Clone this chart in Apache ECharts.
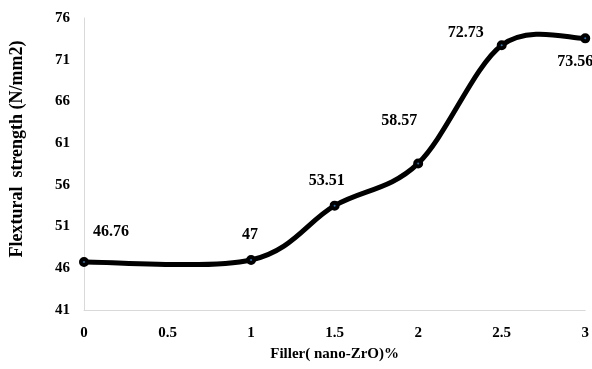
<!DOCTYPE html>
<html>
<head>
<meta charset="utf-8">
<script src="https://cdn.jsdelivr.net/npm/echarts@6/dist/echarts.min.js"></script>
<style>html,body{margin:0;padding:0;background:#fff}#c{width:592px;height:369px}</style>
</head>
<body>
<div id="c"></div>
<script>
const xValues = [0, 1, 1.5, 2, 2.5, 3];
const yValues = [46.76, 47, 53.51, 58.57, 72.73, 73.56];
const xTicks = [0, 0.5, 1, 1.5, 2, 2.5, 3];
const yTicks = [41, 46, 51, 56, 61, 66, 71, 76];

const font = '"Liberation Serif", "Times New Roman", serif';
const labelOffsets = [[27, -30], [-1, -25], [-8, -25], [-19, -43], [-36, -12], [-10, 24]];

const points = xValues.map((x, i) => [x, yValues[i]]);

function renderSegment(params, api) {
  const i = params.dataIndex;
  const n = points.length;
  if (i >= n - 1) return null;
  const px = points.map(p => api.coord(p));
  const p0 = px[Math.max(i - 1, 0)], p1 = px[i], p2 = px[i + 1], p3 = px[Math.min(i + 2, n - 1)];
  return {
    type: 'bezierCurve',
    shape: {
      x1: p1[0], y1: p1[1], x2: p2[0], y2: p2[1],
      cpx1: p1[0] + (p2[0] - p0[0]) / 6, cpy1: p1[1] + (p2[1] - p0[1]) / 6,
      cpx2: p2[0] - (p3[0] - p1[0]) / 6, cpy2: p2[1] - (p3[1] - p1[1]) / 6
    },
    style: { stroke: '#000', lineWidth: 5, fill: null, lineCap: 'round' }
  };
}

const chart = echarts.init(document.getElementById('c'));
chart.setOption({
  animation: false,
  grid: { left: 82, right: 6, top: 18, bottom: 59 },
  xAxis: {
    type: 'value', min: 0, max: 3, interval: 0.5,
    name: 'Filler( nano-ZrO)%', nameLocation: 'middle', nameGap: 37,
    nameTextStyle: { fontFamily: font, fontWeight: 'bold', fontSize: 15, color: '#000' },
    axisLine: { show: true, lineStyle: { color: '#d9d9d9', width: 1 } },
    axisTick: { show: false },
    splitLine: { show: false },
    axisLabel: { fontFamily: font, fontWeight: 'bold', fontSize: 15, color: '#000', margin: 16,
      formatter: v => xTicks.includes(v) ? String(v) : '' }
  },
  yAxis: {
    type: 'value', min: 41, max: 76, interval: 5,
    name: 'Flextural  strength (N/mm2)', nameLocation: 'middle', nameGap: 58,
    nameTextStyle: { fontFamily: font, fontWeight: 'bold', fontSize: 18, color: '#000', padding: [0, 0, 0, 30] },
    axisLine: { show: true, lineStyle: { color: '#d9d9d9', width: 1 } },
    axisTick: { show: false },
    splitLine: { show: false },
    axisLabel: { fontFamily: font, fontWeight: 'bold', fontSize: 15, color: '#000', margin: 14,
      formatter: v => yTicks.includes(v) ? String(v) : '' }
  },
  series: [{
    type: 'custom',
    renderItem: renderSegment,
    data: points,
    encode: { x: 0, y: 1 },
    silent: true,
    z: 2
  }, {
    type: 'scatter',
    data: points.map((p, i) => ({ value: p, label: { offset: labelOffsets[i] } })),
    symbol: 'circle', symbolSize: 6,
    itemStyle: { color: '#2e75b6', borderColor: '#000', borderWidth: 4, opacity: 1 },
    label: {
      show: true, position: 'inside',
      fontFamily: font, fontSize: 16, fontWeight: 'bold', color: '#000',
      formatter: p => String(p.value[1])
    },
    z: 3
  }]
});
</script>
</body>
</html>
